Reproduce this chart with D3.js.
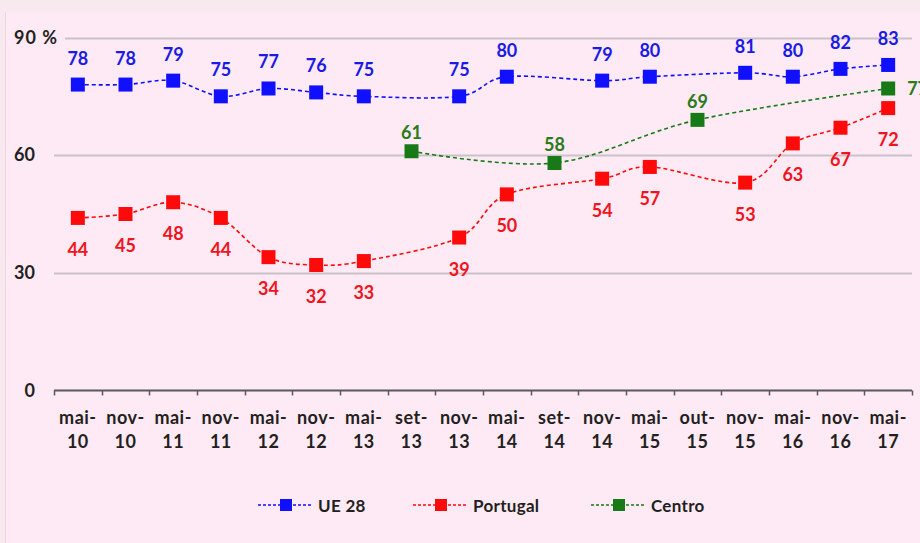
<!DOCTYPE html>
<html>
<head>
<meta charset="utf-8">
<script src="https://cdn.jsdelivr.net/npm/d3@7"></script>
<style>
  html, body { margin: 0; padding: 0; background: #f8e9ef; }
  svg { display: block; font-family: Lato, "Open Sans", "DejaVu Sans", sans-serif; }
</style>
</head>
<body>
<svg id="chart" width="920" height="543"></svg>
<script>
// Survey waves (two-line tick labels: month + year)
const categories = ["mai-10","nov-10","mai-11","nov-11","mai-12","nov-12","mai-13","set-13","nov-13",
  "mai-14","set-14","nov-14","mai-15","out-15","nov-15","mai-16","nov-16","mai-17"];

// Series values (null where a wave was not surveyed)
const ue28     = [78, 78, 79, 75, 77, 76, 75, null, 75, 80, null, 79, 80, null, 81, 80, 82, 83];
const portugal = [44, 45, 48, 44, 34, 32, 33, null, 39, 50, null, 54, 57, null, 53, 63, 67, 72];
const centro   = [null, null, null, null, null, null, null, 61, null, null, 58, null, null, 69, null, null, null, 77];

const yTicks = [0, 30, 60, 90];
const yTickLabels = ["0", "30", "60", "90 %"];

const svg = d3.select("#chart");
const W = 920, H = 543;

// panel
svg.append("rect").attr("x", 0).attr("y", 0).attr("width", W).attr("height", H).attr("fill", "#f8e9ef");
svg.append("rect").attr("x", 5).attr("y", 12).attr("width", W - 5).attr("height", H - 12).attr("fill", "#fdeaf4");
svg.append("line").attr("x1", 5.5).attr("x2", 5.5).attr("y1", 12).attr("y2", H)
  .attr("stroke", "#f3d3e1").attr("stroke-width", 1);

const plotLeft = 54, plotRight = 912, plotTop = 37.5, plotBottom = 390.5;

const x = d3.scaleBand().domain(categories).range([plotLeft, plotRight]).padding(0);
const y = d3.scaleLinear().domain([0, 90]).range([plotBottom, plotTop]);
const cx = c => x(c) + x.bandwidth() / 2;

// gridlines
svg.append("g").selectAll("line").data(yTicks.filter(t => t > 0)).join("line")
  .attr("x1", d => d === 90 ? 65 : plotLeft).attr("x2", plotRight)
  .attr("y1", d => Math.round(y(d)) + 0.5).attr("y2", d => Math.round(y(d)) + 0.5)
  .attr("stroke", "#cbc2c7").attr("stroke-width", 2);

// y tick labels
svg.append("g").selectAll("text").data(yTicks).join("text")
  .attr("x", d => d === 90 ? 14 : 35)
  .attr("y", d => y(d) + 6)
  .attr("text-anchor", d => d === 90 ? "start" : "end")
  .attr("font-size", 18).attr("font-weight", 700).attr("fill", "#231f20")
  .attr("letter-spacing", d => d === 90 ? 1 : 0)
  .text((d, i) => yTickLabels[i]);

// x axis with ticks at band boundaries
const xAxis = svg.append("g").attr("transform", `translate(0,${plotBottom})`);
xAxis.append("line").attr("x1", plotLeft).attr("x2", plotRight).attr("y1", 0).attr("y2", 0)
  .attr("stroke", "#595959").attr("stroke-width", 2);
const bounds = categories.map(c => x(c)).concat([plotRight]);
xAxis.selectAll("line.tick").data(bounds).join("line").attr("class", "tick")
  .attr("x1", d => Math.round(d) + 0.5).attr("x2", d => Math.round(d) + 0.5)
  .attr("y1", 0).attr("y2", 5).attr("stroke", "#595959").attr("stroke-width", 1.5);

const xl = xAxis.selectAll("text").data(categories).join("text")
  .attr("text-anchor", "middle").attr("font-size", 18).attr("font-weight", 700)
  .attr("letter-spacing", 0.5).attr("fill", "#231f20");
xl.append("tspan").attr("x", d => cx(d)).attr("y", 33).text(d => d.split("-")[0] + "-");
xl.append("tspan").attr("x", d => cx(d)).attr("y", 57).text(d => d.split("-")[1]);

// series
const series = [
  { name: "UE 28", values: ue28, color: "#1010ff", label: "#1a1ae6", dy: -20 },
  { name: "Portugal", values: portugal, color: "#ff0a0a", label: "#f0141e", dy: 38 },
  { name: "Centro", values: centro, color: "#177a17", label: "#2a7a1a", dy: -12 }
];

const line = d3.line().x(d => cx(d.c)).y(d => y(d.v)).curve(d3.curveCatmullRom.alpha(0));

series.forEach(s => {
  const pts = categories.map((c, i) => ({ c, v: s.values[i] })).filter(d => d.v !== null);
  const g = svg.append("g");
  g.append("path").datum(pts).attr("d", line).attr("fill", "none")
    .attr("stroke", s.color).attr("stroke-width", 1.6).attr("stroke-dasharray", "4,3");
  g.selectAll("rect").data(pts).join("rect")
    .attr("x", d => cx(d.c) - 7).attr("y", d => y(d.v) - 7)
    .attr("width", 14).attr("height", 14).attr("fill", s.color);
  const isSide = (i) => s.name === "Centro" && i === pts.length - 1;
  g.selectAll("text").data(pts).join("text")
    .attr("x", (d, i) => isSide(i) ? cx(d.c) + 19 : cx(d.c))
    .attr("y", (d, i) => isSide(i) ? y(d.v) + 7 : y(d.v) + s.dy)
    .attr("text-anchor", (d, i) => isSide(i) ? "start" : "middle")
    .attr("font-size", 18).attr("font-weight", 700).attr("fill", s.label)
    .text(d => d.v);
});

// legend
const legendX = [258, 413, 591];
const lg = svg.append("g").selectAll("g").data(series).join("g")
  .attr("transform", (d, i) => `translate(${legendX[i]},505)`);
lg.append("line").attr("x1", 0).attr("x2", 54).attr("y1", 0).attr("y2", 0)
  .attr("stroke", d => d.color).attr("stroke-width", 1.3).attr("stroke-dasharray", "3,2");
lg.append("rect").attr("x", 22).attr("y", -6).attr("width", 12).attr("height", 12).attr("fill", d => d.color);
lg.append("text").attr("x", 60).attr("y", 7).attr("font-size", 17).attr("font-weight", 700)
  .attr("letter-spacing", 0.3).attr("fill", "#231f20").text(d => d.name);
</script>
</body>
</html>
